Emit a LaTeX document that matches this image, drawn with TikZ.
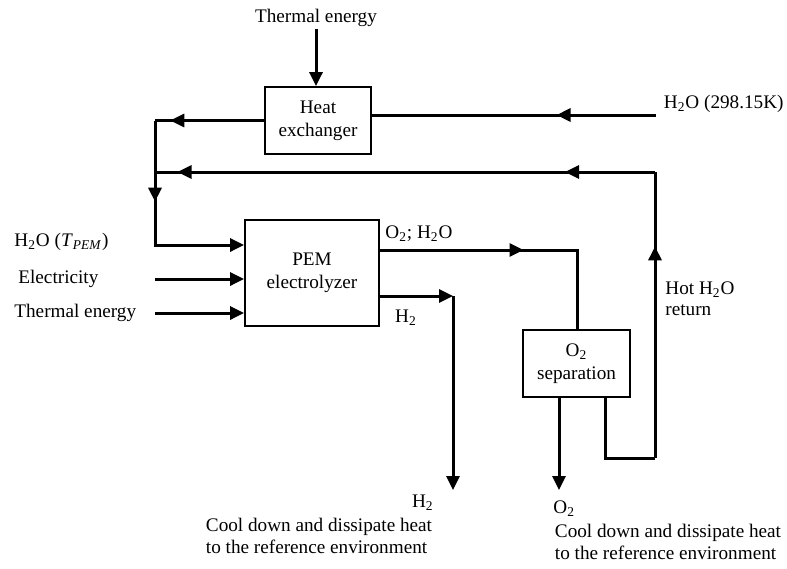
\documentclass[tikz,border=0pt]{standalone}
\usepackage{fontspec}
\setmainfont{Liberation Serif}
\usetikzlibrary{arrows.meta,decorations.markings}

\begin{document}
\begin{tikzpicture}[x=0.5pt, y=-0.5pt,
        unit/.style={draw, line width=0.9pt, align=center, minimum width=#1, minimum height=33.5pt, inner sep=1pt, font=\fontsize{9.6}{11.5}\selectfont},
        flow/.style={line width=1.5pt},
        arrow/.style={flow, -{Triangle[length=7pt,width=6.5pt]}},
        midarrow/.style={flow, postaction={decorate, decoration={markings, mark=at position #1 with {\arrow{Triangle[length=7pt,width=6.5pt]}}}}},
        txt/.style={inner sep=1pt, align=left, font=\fontsize{9.6}{10.6}\selectfont}
    ]
        \useasboundingbox (0,0) rectangle (787,568);

        % units
        \node[unit=53pt] (hx) at (318,120.5) {Heat\\exchanger};
        \node[unit=67pt, minimum height=53pt] (pem) at (312,273) {PEM\\electrolyzer};
        \node[unit=53.5pt] (sep) at (576.5,363.5) {O\textsubscript{2}\\separation};

        % labels
        \node[txt] (thermtop) at (316,18) {Thermal energy};
        \node[txt, anchor=east] (h2oin) at (786,104) {H\textsubscript{2}O (298.15K)};
        \node[txt, anchor=west] (h2opem) at (12,242) {H\textsubscript{2}O (\textit{T}\textsubscript{\textit{PEM}})};
        \node[txt, anchor=west] (elec) at (16,279) {Electricity};
        \node[txt, anchor=west] (thermin) at (12,313) {Thermal energy};
        \node[txt, anchor=west] (o2h2o) at (383,234) {O\textsubscript{2}; H\textsubscript{2}O};
        \node[txt] (h2lab) at (406,318) {H\textsubscript{2}};
        \node[txt, anchor=west] (hotret) at (663,299) {Hot H\textsubscript{2}O\\return};
        \node[txt, anchor=east] (h2out) at (436,503) {H\textsubscript{2}};
        \node[txt] (cool1) at (319,536) {Cool down and dissipate heat\\to the reference environment};
        \node[txt, anchor=west] (o2out) at (551,509) {O\textsubscript{2}};
        \node[txt] (cool2) at (668,542) {Cool down and dissipate heat\\to the reference environment};

        % corners
        \coordinate (jhx) at (155,120.5);
        \coordinate (jloop) at (155,172);
        \coordinate (jin) at (155,245);
        \coordinate (elecin) at (155,279);
        \coordinate (thermin0) at (155,313);
        \coordinate (in298) at (656,115);
        \coordinate (rettop) at (655,172);
        \coordinate (retcor) at (655,458);
        \coordinate (retbot) at (605,458);
        \coordinate (o2turn) at (577,250);
        \coordinate (h2turn) at (453,296);
        \coordinate (h2end) at (453,490);
        \coordinate (o2end) at (559,490);

        \draw[arrow] (thermtop.south) -- (thermtop.south |- hx.north);
        \draw[midarrow=0.35] (in298) -- (hx.east |- in298);
        \draw[midarrow=0.86] (hx.west) -- (jhx);

        \draw[arrow, midarrow=0.38] (jhx) -- (jin) -- (jin -| pem.west);
        \draw[arrow] (elecin) -- (elecin -| pem.west);
        \draw[arrow] (thermin0) -- (thermin0 -| pem.west);

        \draw[midarrow=0.52] (pem.east |- o2turn) -- (o2turn) -- (sep.north -| o2turn);
        \draw[arrow] (pem.east |- h2turn) -- (h2turn);
        \draw[arrow] (h2turn) -- (h2end);
        \draw[arrow] (sep.south -| o2end) -- (o2end);

        \draw[flow] (sep.south -| retbot) -- (retbot) -- (retcor);
        \draw[midarrow=0.74] (retcor) -- (rettop);
        \draw[midarrow=0.18, midarrow=0.955] (rettop) -- (jloop);
    \end{tikzpicture}
\end{document}
